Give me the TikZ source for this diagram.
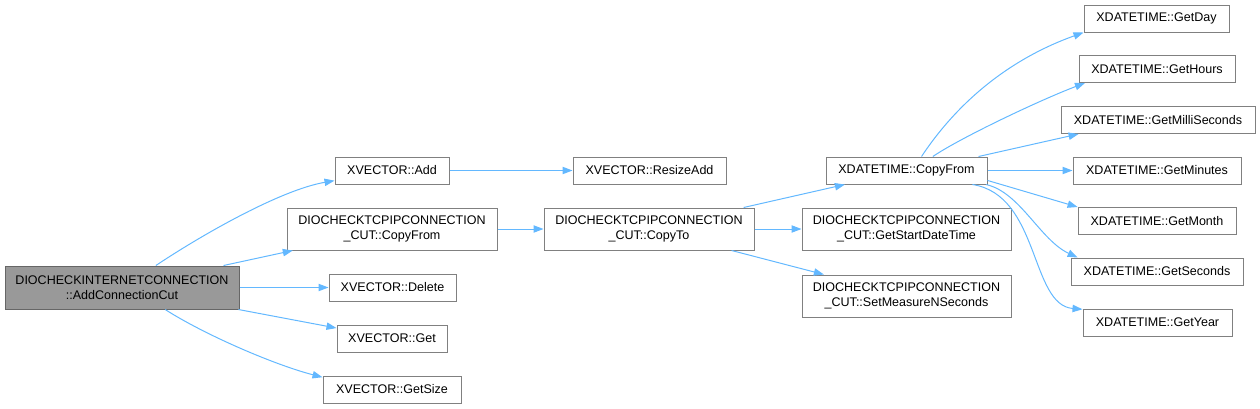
\documentclass[tikz,border=0pt]{standalone}
\usepackage{fontspec}
\setmainfont{Liberation Sans}
\usepackage{xcolor}
\definecolor{graphBleu}{HTML}{63B8FF}
\definecolor{graphBord}{HTML}{808080}
\definecolor{graphRacine}{HTML}{999999}
\definecolor{graphBordRacine}{HTML}{666666}
\usepackage{tikz}
\usetikzlibrary{arrows.meta, positioning}
\tikzset{
  %% ── Boites ───────────────────────────────────────────────────────────
  %% Une fonction appelee par boite; la racine est la seule en gris.
  bloc/.style       = {draw=graphBord, line width=0.75pt, fill=white,
                       text=black, align=center, inner sep=2pt},
  blocRacine/.style = {bloc, fill=graphRacine, draw=graphBordRacine},
  %%
  %% ── Fleches ──────────────────────────────────────────────────────────
  fleche/.style     = {-{Triangle[length=7.5pt, width=5.5pt]}, draw=graphBleu,
                       line width=0.75pt},
}

\begin{document}
\begin{tikzpicture}[x=0.75pt, y=-0.75pt, font=\fontsize{9.4}{11.25}\selectfont]
\useasboundingbox (0,0) rectangle (1260,408);

%% La fonction de depart.
\node[blocRacine, minimum width=175.5pt, minimum height=32.25pt] (root) at (122, 287.5)
     {DIOCHECKINTERNETCONNECTION\\::AddConnectionCut};

%% Premier rang d'appels.
\node[bloc, minimum width=85.5pt, minimum height=20.25pt] (add) at (392, 170.5)
     {XVECTOR::Add};
\node[bloc, minimum width=157.5pt, minimum height=31.5pt] (cutCopyFrom) at (392, 229)
     {DIOCHECKTCPIPCONNECTION\\\_CUT::CopyFrom};
\node[bloc, minimum width=95.25pt, minimum height=20.25pt] (delete) at (392.5, 287.5)
     {XVECTOR::Delete};
\node[bloc, minimum width=82.5pt, minimum height=20.25pt] (get) at (392, 338.5)
     {XVECTOR::Get};
\node[bloc, minimum width=103.5pt, minimum height=20.25pt] (getSize) at (392, 389.5)
     {XVECTOR::GetSize};

%% Deuxieme rang.
\node[bloc, minimum width=114.75pt, minimum height=20.25pt] (resizeAdd) at (649.5, 170.5)
     {XVECTOR::ResizeAdd};
\node[bloc, minimum width=157.5pt, minimum height=31.5pt] (cutCopyTo) at (649, 229)
     {DIOCHECKTCPIPCONNECTION\\\_CUT::CopyTo};

%% Troisieme rang.
\node[bloc, minimum width=120.75pt, minimum height=20.25pt] (xdtCopyFrom) at (906.5, 170.5)
     {XDATETIME::CopyFrom};
\node[bloc, minimum width=156.75pt, minimum height=31.5pt] (startDate) at (906.5, 229)
     {DIOCHECKTCPIPCONNECTION\\\_CUT::GetStartDateTime};
\node[bloc, minimum width=156.75pt, minimum height=31.5pt] (setMeasure) at (906.5, 296)
     {DIOCHECKTCPIPCONNECTION\\\_CUT::SetMeasureNSeconds};

%% Les accesseurs de XDATETIME.
\node[bloc, minimum width=108.75pt, minimum height=20.25pt] (getDay) at (1156.5, 18.5)
     {XDATETIME::GetDay};
\node[bloc, minimum width=117pt, minimum height=20.25pt] (getHours) at (1157, 69)
     {XDATETIME::GetHours};
\node[bloc, minimum width=145.5pt, minimum height=20.25pt] (getMilli) at (1158, 120)
     {XDATETIME::GetMilliSeconds};
\node[bloc, minimum width=126pt, minimum height=20.25pt] (getMinutes) at (1157, 170.5)
     {XDATETIME::GetMinutes};
\node[bloc, minimum width=118.5pt, minimum height=20.25pt] (getMonth) at (1157, 221)
     {XDATETIME::GetMonth};
\node[bloc, minimum width=129pt, minimum height=20.25pt] (getSeconds) at (1157, 271.5)
     {XDATETIME::GetSeconds};
\node[bloc, minimum width=111.75pt, minimum height=20.25pt] (getYear) at (1157.5, 322.5)
     {XDATETIME::GetYear};

%% Appels en ligne droite.
\foreach \a/\b in {root/cutCopyFrom, root/delete, root/get, add/resizeAdd,
                   cutCopyFrom/cutCopyTo, cutCopyTo/xdtCopyFrom, cutCopyTo/startDate,
                   cutCopyTo/setMeasure, xdtCopyFrom/getMinutes}
  \draw[fleche] (\a) -- (\b);

%% Appels courbes.
\draw[fleche] (root.33) .. controls (200, 236) and (280, 190) .. (add.190);
\draw[fleche] (root.333) .. controls (205, 335) and (275, 365) .. (getSize.170);
\draw[fleche] (xdtCopyFrom.43) .. controls (961, 97) and (1015, 57) .. (getDay.south west);
\draw[fleche] (xdtCopyFrom.28) .. controls (960, 138) and (1040, 100) .. (getHours.191);
\draw[fleche] (xdtCopyFrom.11) -- (getMilli.190);
\draw[fleche] (xdtCopyFrom.353) -- (getMonth.170);
\draw[fleche] (xdtCopyFrom.350) .. controls (1020, 192) and (1040, 240) .. (getSeconds.170);
\draw[fleche] (xdtCopyFrom.348) .. controls (1040, 195) and (1030, 305) .. (getYear.170);

\end{tikzpicture}
\end{document}
